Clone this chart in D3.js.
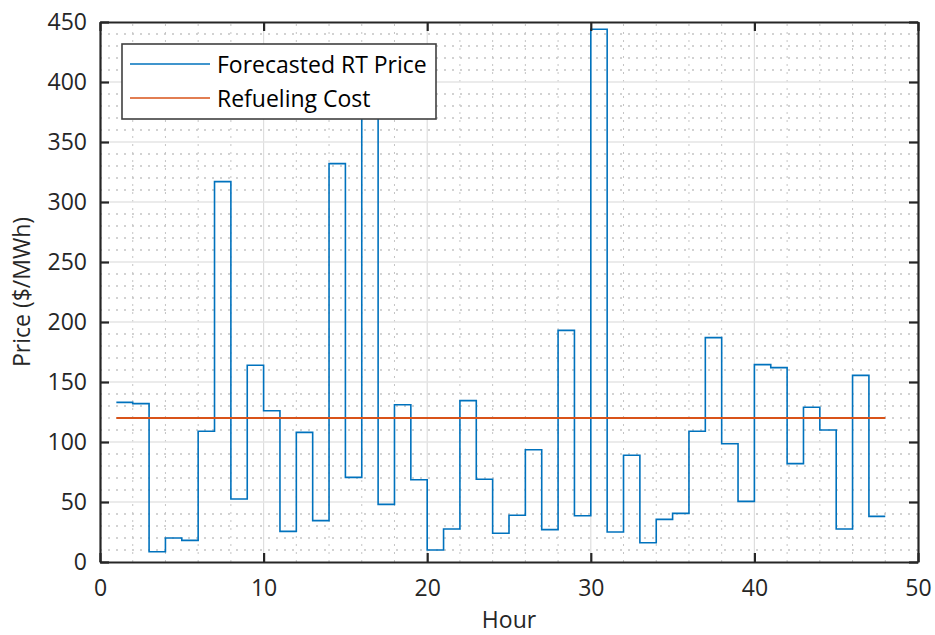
<!DOCTYPE html>
<html>
<head>
<meta charset="utf-8">
<script src="https://cdn.jsdelivr.net/npm/d3@7"></script>
<style>
  html, body { margin: 0; padding: 0; background: #fff; }
  svg { display: block; font-family: "Open Sans", "Noto Sans", sans-serif; }
</style>
</head>
<body>
<svg id="chart" width="935" height="635"></svg>
<script>
// Hourly forecasted real-time price ($/MWh)
const hours = [1, 2, 3, 4, 5, 6, 7, 8, 9, 10, 11, 12, 13, 14, 15, 16,
  17, 18, 19, 20, 21, 22, 23, 24, 25, 26, 27, 28, 29, 30, 31, 32,
  33, 34, 35, 36, 37, 38, 39, 40, 41, 42, 43, 44, 45, 46, 47, 48];
const rtPrice = [133, 132, 8.5, 20, 18, 109, 317, 52.5, 164, 126, 25.5, 108, 34.5, 332, 70.5, 395,
  48, 131, 68.5, 10, 27.5, 134.5, 69, 24, 39, 93.5, 27, 193, 38.5, 444, 25, 89,
  16, 35.5, 40.5, 109, 187, 98.5, 50.5, 164.5, 162, 82, 129, 110, 27.5, 155.5, 38, 38];
const refuelingCost = [120, 120];
const refuelingHours = [1, 48];

const xTicks = [0, 10, 20, 30, 40, 50];
const yTicks = [0, 50, 100, 150, 200, 250, 300, 350, 400, 450];
const xMinorTicks = [2, 4, 6, 8, 12, 14, 16, 18, 22, 24, 26, 28, 32, 34, 36, 38, 42, 44, 46, 48];
const yMinorTicks = [10, 20, 30, 40, 60, 70, 80, 90, 110, 120, 130, 140, 160, 170, 180, 190,
  210, 220, 230, 240, 260, 270, 280, 290, 310, 320, 330, 340, 360, 370, 380, 390, 410, 420, 430, 440];

const seriesNames = ["Forecasted RT Price", "Refueling Cost"];
const seriesColors = ["#0072BD", "#D95319"];

const svg = d3.select("#chart");
const m = { left: 100, right: 17, top: 22, bottom: 73 };
const W = 935, H = 635;
const x = d3.scaleLinear().domain([0, 50]).range([m.left, W - m.right]);
const y = d3.scaleLinear().domain([0, 450]).range([H - m.bottom, m.top]);
const axisColor = "#262626";

// Minor grid (dotted)
const grid = svg.append("g");
grid.selectAll(".mx").data(xMinorTicks).join("line")
  .attr("x1", d => x(d)).attr("x2", d => x(d))
  .attr("y1", y(0)).attr("y2", y(450))
  .attr("stroke", "#c4c4c4").attr("stroke-width", 1)
  .attr("stroke-dasharray", "2,6");
grid.selectAll(".my").data(yMinorTicks).join("line")
  .attr("y1", d => y(d)).attr("y2", d => y(d))
  .attr("x1", x(0)).attr("x2", x(50))
  .attr("stroke", "#c4c4c4").attr("stroke-width", 1.3)
  .attr("stroke-dasharray", "2,6");

// Major grid (solid)
grid.selectAll(".gx").data(xTicks.slice(1, -1)).join("line")
  .attr("x1", d => x(d)).attr("x2", d => x(d))
  .attr("y1", y(0)).attr("y2", y(450))
  .attr("stroke", "#dedede").attr("stroke-width", 1.2);
grid.selectAll(".gy").data(yTicks.slice(1, -1)).join("line")
  .attr("y1", d => y(d)).attr("y2", d => y(d))
  .attr("x1", x(0)).attr("x2", x(50))
  .attr("stroke", "#e4e4e4").attr("stroke-width", 1.6);

// Series
const stepLine = d3.line().x(d => x(d[0])).y(d => y(d[1])).curve(d3.curveStepAfter);
svg.append("path")
  .datum(hours.map((h, i) => [h, rtPrice[i]]))
  .attr("d", stepLine)
  .attr("fill", "none").attr("stroke", seriesColors[0]).attr("stroke-width", 1.6);

const straight = d3.line().x(d => x(d[0])).y(d => y(d[1]));
svg.append("path")
  .datum(refuelingHours.map((h, i) => [h, refuelingCost[i]]))
  .attr("d", straight)
  .attr("fill", "none").attr("stroke", seriesColors[1]).attr("stroke-width", 2);

// Axes with inward ticks on all four sides
const tickLen = 9;
const fontSize = 23;
const axBottom = svg.append("g").attr("transform", `translate(0,${y(0)})`)
  .call(d3.axisBottom(x).tickValues(xTicks).tickSizeInner(-tickLen).tickSizeOuter(0).tickPadding(12));
const axTop = svg.append("g").attr("transform", `translate(0,${y(450)})`)
  .call(d3.axisTop(x).tickValues(xTicks).tickSizeInner(-tickLen).tickSizeOuter(0).tickFormat(""));
const axLeft = svg.append("g").attr("transform", `translate(${x(0)},0)`)
  .call(d3.axisLeft(y).tickValues(yTicks).tickSizeInner(-tickLen).tickSizeOuter(0).tickPadding(13));
const axRight = svg.append("g").attr("transform", `translate(${x(50)},0)`)
  .call(d3.axisRight(y).tickValues(yTicks).tickSizeInner(-tickLen).tickSizeOuter(0).tickFormat(""));

[axBottom, axTop, axLeft, axRight].forEach(g => {
  g.select(".domain").attr("stroke", axisColor).attr("stroke-width", 2.2);
  g.selectAll(".tick line").attr("stroke", axisColor).attr("stroke-width", 2.2);
  g.selectAll(".tick text").attr("fill", axisColor)
    .style("font-size", fontSize + "px")
    .style("font-family", "'Open Sans', 'Noto Sans', sans-serif");
});
axBottom.selectAll(".tick text").attr("dy", "0.95em");

// Axis titles
svg.append("text")
  .attr("x", (x(0) + x(50)) / 2).attr("y", 619)
  .attr("text-anchor", "middle").attr("dominant-baseline", "central")
  .attr("fill", axisColor).style("font-size", fontSize + "px")
  .text("Hour");
svg.append("text")
  .attr("transform", `translate(21,${(y(0) + y(450)) / 2}) rotate(-90)`)
  .attr("text-anchor", "middle").attr("dominant-baseline", "central")
  .attr("fill", axisColor).style("font-size", fontSize + "px")
  .text("Price ($/MWh)");

// Legend
const legend = svg.append("g").attr("transform", "translate(122,44)");
legend.append("rect")
  .attr("width", 314).attr("height", 75)
  .attr("fill", "#fff").attr("stroke", "#404040").attr("stroke-width", 1.6);
const rows = legend.selectAll(".row").data(seriesNames).join("g")
  .attr("transform", (d, i) => `translate(0,${20 + i * 34})`);
rows.append("line")
  .attr("x1", 8).attr("x2", 88)
  .attr("stroke", (d, i) => seriesColors[i]).attr("stroke-width", 1.6);
rows.append("text")
  .attr("x", 95).attr("dominant-baseline", "central")
  .attr("fill", "#000").style("font-size", fontSize + "px")
  .text(d => d);
</script>
</body>
</html>
